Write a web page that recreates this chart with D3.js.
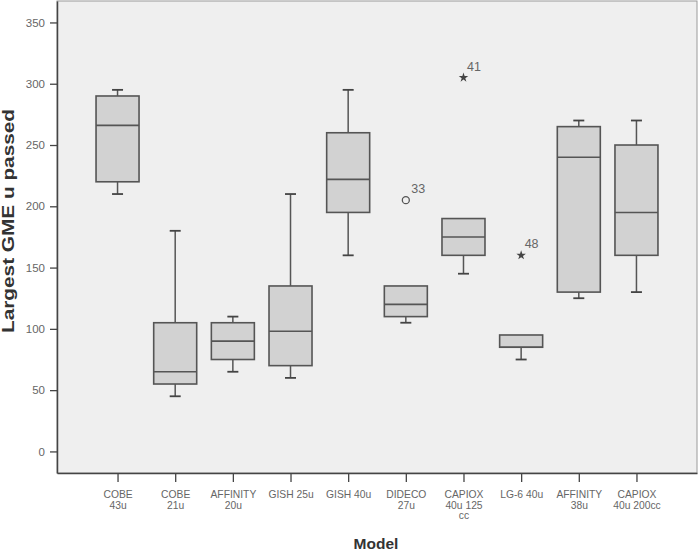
<!DOCTYPE html>
<html>
<head>
<meta charset="utf-8">
<script src="https://cdn.jsdelivr.net/npm/d3@7"></script>
<style>
  html, body { margin: 0; padding: 0; background: #ffffff; }
  svg { display: block; font-family: "Liberation Sans", Arial, sans-serif; }
</style>
</head>
<body>
<svg id="chart" width="700" height="555"></svg>
<script>
// ---- data ----
const categories = ["COBE 43u", "COBE 21u", "AFFINITY 20u", "GISH 25u", "GISH 40u",
  "DIDECO 27u", "CAPIOX 40u 125 cc", "LG-6 40u", "AFFINITY 38u", "CAPIOX 40u 200cc"];
const tickLabelLines = [["COBE", "43u"], ["COBE", "21u"], ["AFFINITY", "20u"], ["GISH 25u"], ["GISH 40u"],
  ["DIDECO", "27u"], ["CAPIOX", "40u 125", "cc"], ["LG-6 40u"], ["AFFINITY", "38u"], ["CAPIOX", "40u 200cc"]];
const whiskerLow  = [210, 45, 65, 60, 160, 105, 145, 75, 125, 130];
const q1          = [220, 55, 75, 70, 195, 110, 160, 85, 130, 160];
const median      = [266, 65, 90, 98, 222, 120, 175, 85, 240, 195];
const q3          = [290, 105, 105, 135, 260, 135, 190, 95, 265, 250];
const whiskerHigh = [295, 180, 110, 210, 295, 135, 190, 95, 270, 270];
const outlierCategory = ["DIDECO 27u", "CAPIOX 40u 125 cc", "LG-6 40u"];
const outlierValue    = [205, 305, 160];
const outlierLabel    = ["33", "41", "48"];
const outlierType     = ["circle", "star", "star"];
const yTicks = [0, 50, 100, 150, 200, 250, 300, 350];

// ---- layout ----
const svg = d3.select("#chart");
const plotLeft = 57, plotRight = 697, plotTop = 1, plotBottom = 473;

const x = d3.scalePoint().domain(categories).range([plotLeft, plotRight]).padding(1.05);
const y = d3.scaleLinear().domain([-17.6, 367.5]).range([plotBottom, plotTop]);

// plot background
svg.append("rect").attr("x", plotLeft).attr("y", plotTop).attr("width", plotRight - plotLeft)
  .attr("height", plotBottom - plotTop)
  .attr("fill", "#efefef").attr("stroke", "#9a9a9a").attr("stroke-width", 1);

// axes
const yAxis = svg.append("g").attr("transform", `translate(${plotLeft},0)`)
  .call(d3.axisLeft(y).tickValues(yTicks).tickSizeInner(7).tickSizeOuter(0).tickPadding(5));
yAxis.select(".domain").attr("stroke", "#444").attr("stroke-width", 1.5);
yAxis.selectAll(".tick line").attr("stroke", "#444").attr("stroke-width", 1.3);
yAxis.selectAll(".tick text").attr("fill", "#666").attr("font-size", 11.5)
  .attr("font-family", "'Liberation Sans', Arial, sans-serif");

const xAxis = svg.append("g").attr("transform", `translate(0,${plotBottom})`)
  .call(d3.axisBottom(x).tickSizeInner(9).tickSizeOuter(0).tickFormat(""));
xAxis.select(".domain").attr("stroke", "#444").attr("stroke-width", 1.5);
xAxis.selectAll(".tick line").attr("stroke", "#444").attr("stroke-width", 1.3);
xAxis.selectAll(".tick").each(function(d, i) {
  const t = d3.select(this).append("text").attr("fill", "#666").attr("font-size", 10.3)
    .attr("text-anchor", "middle").attr("font-family", "'Liberation Sans', Arial, sans-serif");
  tickLabelLines[i].forEach((line, j) => {
    t.append("tspan").attr("x", 0).attr("y", 25 + j * 10.7).text(line);
  });
});

// boxes
const boxW = 43, capW = 11;
const g = svg.append("g");
categories.forEach((c, i) => {
  const cx = x(c);
  if (whiskerHigh[i] > q3[i]) {
    g.append("line").attr("x1", cx).attr("x2", cx).attr("y1", y(q3[i])).attr("y2", y(whiskerHigh[i]))
      .attr("stroke", "#555").attr("stroke-width", 1.5);
    g.append("line").attr("x1", cx - capW / 2).attr("x2", cx + capW / 2)
      .attr("y1", y(whiskerHigh[i])).attr("y2", y(whiskerHigh[i])).attr("stroke", "#444").attr("stroke-width", 1.8);
  }
  if (whiskerLow[i] < q1[i]) {
    g.append("line").attr("x1", cx).attr("x2", cx).attr("y1", y(q1[i])).attr("y2", y(whiskerLow[i]))
      .attr("stroke", "#555").attr("stroke-width", 1.5);
    g.append("line").attr("x1", cx - capW / 2).attr("x2", cx + capW / 2)
      .attr("y1", y(whiskerLow[i])).attr("y2", y(whiskerLow[i])).attr("stroke", "#444").attr("stroke-width", 1.8);
  }
  g.append("rect").attr("x", cx - boxW / 2).attr("y", y(q3[i])).attr("width", boxW)
    .attr("height", y(q1[i]) - y(q3[i])).attr("fill", "#d2d2d2").attr("stroke", "#555").attr("stroke-width", 1.6);
  g.append("line").attr("x1", cx - boxW / 2).attr("x2", cx + boxW / 2)
    .attr("y1", y(median[i])).attr("y2", y(median[i])).attr("stroke", "#555").attr("stroke-width", 1.6);
});

// outliers
outlierCategory.forEach((c, i) => {
  const ox = x(c), oy = y(outlierValue[i]);
  const isCircle = outlierType[i] === "circle";
  if (isCircle) {
    g.append("circle").attr("cx", ox).attr("cy", oy).attr("r", 3.5)
      .attr("fill", "none").attr("stroke", "#555").attr("stroke-width", 1.3);
  } else {
    g.append("path").attr("d", d3.symbol().type(d3.symbolStar).size(28)())
      .attr("transform", `translate(${ox},${oy})`).attr("fill", "#444");
  }
  g.append("text").attr("x", ox + (isCircle ? 5.5 : 3.5)).attr("y", oy - 7).attr("font-size", 12.5).attr("fill", "#666")
    .text(outlierLabel[i]);
});

// titles
svg.append("text").attr("x", (plotLeft + plotRight) / 2 - 1).attr("y", 549).attr("text-anchor", "middle")
  .attr("font-size", 15.5).attr("font-weight", "bold").attr("fill", "#333").text("Model");
svg.append("text").attr("transform", "translate(14,221) rotate(-90)").attr("text-anchor", "middle")
  .attr("font-size", 16).attr("font-weight", "bold").attr("fill", "#333")
  .attr("textLength", 224).attr("lengthAdjust", "spacingAndGlyphs").text("Largest GME u passed");
</script>
</body>
</html>
